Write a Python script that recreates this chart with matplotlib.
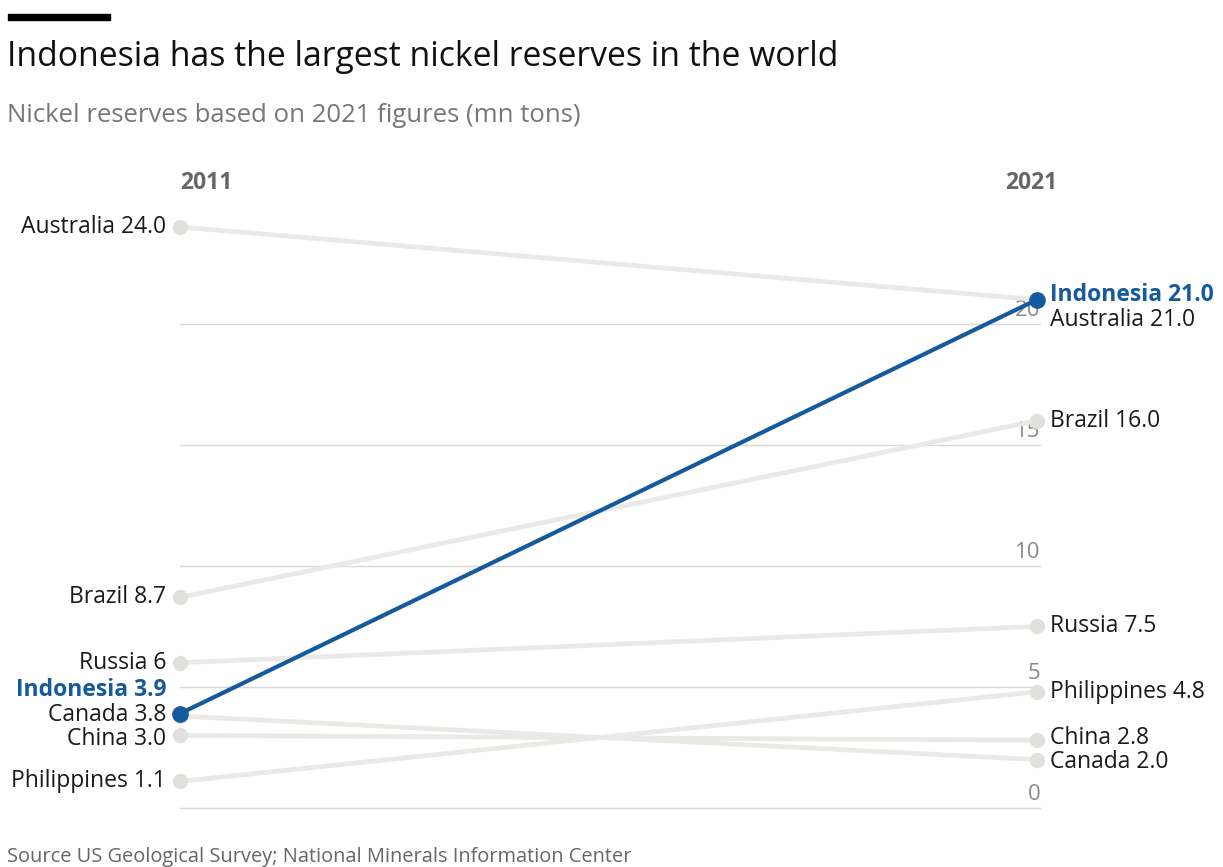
import matplotlib.pyplot as plt

# data (mn tons)
countries = ['Australia', 'Indonesia', 'Brazil', 'Russia', 'Philippines', 'China', 'Canada']
reserves_2011 = [24.0, 3.9, 8.7, 6, 1.1, 3.0, 3.8]
reserves_2021 = [21.0, 21.0, 16.0, 7.5, 4.8, 2.8, 2.0]
labels_2011 = ['24.0', '3.9', '8.7', '6', '1.1', '3.0', '3.8']
labels_2021 = ['21.0', '21.0', '16.0', '7.5', '4.8', '2.8', '2.0']
years = ['2011', '2021']
yticks = [0, 5, 10, 15, 20]

plt.rcParams['font.family'] = ['Open Sans', 'DejaVu Sans']

W, H = 1223, 867
fig = plt.figure(figsize=(W / 100, H / 100), dpi=100)

def px(x, y):
    # pixel position (from top-left) -> figure fraction
    return x / W, 1 - y / H

# axes: x 0..1 -> 180..1037 px, y 0..24 -> 808..227 px
x0, y0 = px(180, 808)
x1, y1 = px(1037, 227)
ax = fig.add_axes([x0, y0, x1 - x0, y1 - y0])
ax.set_xlim(0, 1)
ax.set_ylim(0, 24)
ax.axis('off')

highlight = 'Indonesia'
blue = '#165a9e'
grey_line = '#ebe9e6'
grey_dot = '#e2e0dd'

# gridlines and tick labels
for t in yticks:
    ax.plot([0, 1.004], [t, t], color='#d9d9d9', lw=1, zorder=0, clip_on=False)
    ax.annotate(str(t), (1.004, t), xytext=(0, 2), textcoords='offset points',
                ha='right', va='bottom', fontsize=16, color='#8a8a8a', zorder=1,
                annotation_clip=False)

# label nudges in points (left, right)
nudge_left = {'Indonesia': 17, 'Canada': 0.5, 'China': -2.5}
nudge_right = {'Indonesia': 3, 'Australia': -15, 'China': 1.5, 'Canada': -1.5}

for name, a, b, la, lb in zip(countries, reserves_2011, reserves_2021, labels_2011, labels_2021):
    if name == highlight:
        continue
    ax.plot([0, 1], [a, b], color=grey_line, lw=3.4, solid_capstyle='round', zorder=2, clip_on=False)
    ax.plot([0, 1], [a, b], 'o', color=grey_dot, ms=10, zorder=2, clip_on=False)

hi = countries.index(highlight)
ax.plot([0, 1], [reserves_2011[hi], reserves_2021[hi]], color=blue, lw=3, zorder=5, clip_on=False)
ax.plot([0, 1], [reserves_2011[hi], reserves_2021[hi]], 'o', color=blue, ms=11, zorder=6, clip_on=False)

for name, a, b, la, lb in zip(countries, reserves_2011, reserves_2021, labels_2011, labels_2021):
    is_hi = name == highlight
    kw = dict(fontsize=16.5, color=blue if is_hi else '#1a1a1a',
              fontweight='bold' if is_hi else 'normal', va='center', zorder=7,
              textcoords='offset points', annotation_clip=False)
    ax.annotate(f'{name} {la}', (0, a), xytext=(-10, nudge_left.get(name, 0)), ha='right', **kw)
    ax.annotate(f'{name} {lb}', (1, b), xytext=(9, nudge_right.get(name, 0)), ha='left', **kw)

# year headers
fig.text(*px(180, 183), years[0], ha='left', va='center', fontsize=16.5,
         fontweight='bold', color='#666666')
fig.text(*px(1057, 183), years[1], ha='right', va='center', fontsize=16.5,
         fontweight='bold', color='#666666')

# title block
fig.patches.append(plt.Rectangle(px(8, 20), 102 / W, 6 / H, transform=fig.transFigure,
                                 color='black', zorder=10))
fig.text(*px(7, 57), 'Indonesia has the largest nickel reserves in the world',
         ha='left', va='center', fontsize=24.3, color='#111111')
fig.text(*px(7, 116), 'Nickel reserves based on 2021 figures (mn tons)',
         ha='left', va='center', fontsize=18.5, color='#777777')
fig.text(*px(7, 857), 'Source US Geological Survey; National Minerals Information Center',
         ha='left', va='center', fontsize=14.4, color='#666666')

fig.savefig('out.png', dpi=100)
